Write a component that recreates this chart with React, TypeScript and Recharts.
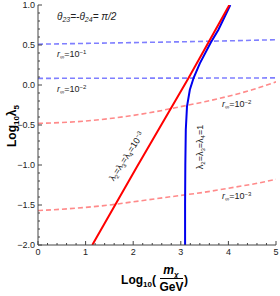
import React from 'react'
import { LineChart, Line, XAxis, YAxis } from 'recharts'

// x = log10(m_chi / GeV), y = log10(lambda_5)
const xMajor = [0, 1, 2, 3, 4, 5]
const yMajor = [-2, -1.5, -1, -0.5, 0, 0.5, 1]
const xTicks = Array.from({ length: 26 }, (_, i) => i / 5)
const yTicks = Array.from({ length: 31 }, (_, i) => -2 + i / 10)

// dashed curves (r_inf contours)
const blueR1 = [
  { x: 0, y: 0.51 }, { x: 1, y: 0.52 }, { x: 2, y: 0.53 },
  { x: 3, y: 0.54 }, { x: 4, y: 0.552 }, { x: 5, y: 0.566 },
]
const blueR2 = [
  { x: 0, y: 0.083 }, { x: 1, y: 0.084 }, { x: 2, y: 0.085 },
  { x: 3, y: 0.086 }, { x: 4, y: 0.087 }, { x: 5, y: 0.089 },
]
const redR2 = [
  { x: 0, y: -0.48 }, { x: 1, y: -0.45 }, { x: 1.5, y: -0.42 }, { x: 2, y: -0.38 },
  { x: 2.5, y: -0.33 }, { x: 3, y: -0.27 }, { x: 3.5, y: -0.21 }, { x: 4, y: -0.14 },
  { x: 4.5, y: -0.06 }, { x: 5, y: 0.04 },
]
const redR3 = [
  { x: 0, y: -1.57 }, { x: 1, y: -1.53 }, { x: 1.5, y: -1.5 }, { x: 2, y: -1.46 },
  { x: 2.5, y: -1.42 }, { x: 3, y: -1.38 }, { x: 3.5, y: -1.34 }, { x: 4, y: -1.29 },
  { x: 4.5, y: -1.24 }, { x: 5, y: -1.18 },
]

// solid curves
const redSmall = [
  { x: 1.14, y: -2 }, { x: 2.07, y: -1.03 }, { x: 3.16, y: 0.085 },
  { x: 3.58, y: 0.53 }, { x: 4.02, y: 1 },
]
const blueOne = [
  { x: 3.09, y: -2 }, { x: 3.09, y: -1.5 }, { x: 3.095, y: -1.0 }, { x: 3.105, y: -0.56 },
  { x: 3.13, y: -0.27 }, { x: 3.19, y: -0.06 }, { x: 3.27, y: 0.09 }, { x: 3.4, y: 0.27 },
  { x: 3.63, y: 0.53 }, { x: 3.79, y: 0.69 }, { x: 4.04, y: 1 },
]

const FONT = '"Liberation Sans", Arial, sans-serif'
const AXIS = '#444'
const TXT = '#222'

const isMajor = (v: number, list: number[]) => list.some((m) => Math.abs(m - v) < 1e-6)
const fmtY = (v: number) => (v < 0 ? '\u2212' + Math.abs(v).toFixed(1) : v.toFixed(1))

const BottomTick = (p: any) => {
  const major = isMajor(p.payload.value, xMajor)
  return (
    <g>
      <line x1={p.x} y1={p.y} x2={p.x} y2={p.y - (major ? 4 : 2)} stroke={AXIS} />
      {major && (
        <text x={p.x} y={p.y + 10} textAnchor="middle" fontSize={9} fill={TXT} fontFamily={FONT}>
          {Math.round(p.payload.value)}
        </text>
      )}
    </g>
  )
}
const TopTick = (p: any) => {
  const major = isMajor(p.payload.value, xMajor)
  return <line x1={p.x} y1={p.y} x2={p.x} y2={p.y + (major ? 4 : 2)} stroke={AXIS} />
}
const LeftTick = (p: any) => {
  const major = isMajor(p.payload.value, yMajor)
  return (
    <g>
      <line x1={p.x} y1={p.y} x2={p.x + (major ? 4 : 2)} y2={p.y} stroke={AXIS} />
      {major && (
        <text x={p.x - 3} y={p.y + 3} textAnchor="end" fontSize={9} fill={TXT} fontFamily={FONT}>
          {fmtY(p.payload.value)}
        </text>
      )}
    </g>
  )
}
const RightTick = (p: any) => {
  const major = isMajor(p.payload.value, yMajor)
  return <line x1={p.x} y1={p.y} x2={p.x - (major ? 4 : 2)} y2={p.y} stroke={AXIS} />
}

// "r∞=10^e" label
const RLabel = ({ x, y, e }: { x: number; y: number; e: string }) => (
  <text x={x} y={y} fontSize={9} fill={TXT} fontFamily={FONT}>
    <tspan fontStyle="italic">r</tspan>
    <tspan dy={2} fontSize={6}>∞</tspan>
    <tspan dy={-2}>=10</tspan>
    <tspan dy={-3} fontSize={6}>{'\u2212' + e}</tspan>
  </text>
)

// "λ2=λ3=λ4=..." label
const LamLabel = ({ tail }: { tail: React.ReactNode }) => (
  <>
    <tspan>λ</tspan><tspan dy={2} fontSize={6}>2</tspan>
    <tspan dy={-2}>=λ</tspan><tspan dy={2} fontSize={6}>3</tspan>
    <tspan dy={-2}>=λ</tspan><tspan dy={2} fontSize={6}>4</tspan>
    {tail}
  </>
)

export default function App() {
  return (
    <div style={{ position: 'absolute', left: 0, top: 0, width: 280, height: 296, background: '#fff' }}>
      <LineChart width={280} height={296} margin={{ top: 5, right: 4, bottom: 0, left: 0 }}>
        <XAxis xAxisId="x" type="number" dataKey="x" domain={[0, 5]} ticks={xTicks} interval={0}
          tickSize={0} tickMargin={0} tick={BottomTick} height={51} stroke={AXIS} allowDataOverflow />
        <XAxis xAxisId="xt" orientation="top" type="number" dataKey="x" domain={[0, 5]} ticks={xTicks}
          interval={0} tickSize={0} tickMargin={0} tick={TopTick} height={0} stroke={AXIS} allowDataOverflow />
        <YAxis yAxisId="y" type="number" dataKey="y" domain={[-2, 1]} ticks={yTicks} interval={0}
          tickSize={0} tickMargin={0} tick={LeftTick} width={38} stroke={AXIS} allowDataOverflow />
        <YAxis yAxisId="yr" orientation="right" type="number" dataKey="y" domain={[-2, 1]} ticks={yTicks}
          interval={0} tickSize={0} tickMargin={0} tick={RightTick} width={0} stroke={AXIS} allowDataOverflow />

        <Line xAxisId="x" yAxisId="y" data={blueR1} dataKey="y" stroke="#7f7fff" strokeWidth={1.6}
          strokeDasharray="5 3" dot={false} isAnimationActive={false} />
        <Line xAxisId="x" yAxisId="y" data={blueR2} dataKey="y" stroke="#7f7fff" strokeWidth={1.6}
          strokeDasharray="5 3" dot={false} isAnimationActive={false} />
        <Line xAxisId="x" yAxisId="y" data={redR2} dataKey="y" type="monotone" stroke="#ff8a8a"
          strokeWidth={1.6} strokeDasharray="5 3" dot={false} isAnimationActive={false} />
        <Line xAxisId="x" yAxisId="y" data={redR3} dataKey="y" type="monotone" stroke="#ff8a8a"
          strokeWidth={1.6} strokeDasharray="5 3" dot={false} isAnimationActive={false} />
        <Line xAxisId="x" yAxisId="y" data={blueOne} dataKey="y" type="linear" stroke="#0000ee"
          strokeWidth={2} dot={false} isAnimationActive={false} />
        <Line xAxisId="x" yAxisId="y" data={redSmall} dataKey="y" type="linear" stroke="#ff0000"
          strokeWidth={2} dot={false} isAnimationActive={false} />
      </LineChart>

      <svg width={280} height={296} style={{ position: 'absolute', left: 0, top: 0, pointerEvents: 'none' }}>
        <text x={57} y={20} fontSize={10} fill={TXT} fontFamily={FONT} fontStyle="italic">
          <tspan>θ</tspan><tspan dy={2} fontSize={7}>23</tspan>
          <tspan dy={-2}>=-θ</tspan><tspan dy={2} fontSize={7}>24</tspan>
          <tspan dy={-2}>= π/2</tspan>
        </text>
        <RLabel x={57} y={57} e="1" />
        <RLabel x={57} y={92} e="2" />
        <RLabel x={222} y={107} e="2" />
        <RLabel x={222} y={199} e="3" />

        <text transform="translate(129,158) rotate(-57)" textAnchor="middle" fontSize={9} fill={TXT} fontFamily={FONT}>
          <LamLabel tail={<><tspan dy={-2}>=10</tspan><tspan dy={-3} fontSize={6}>{'\u22123'}</tspan></>} />
        </text>
        <text transform="translate(203,147) rotate(-90)" textAnchor="middle" fontSize={9} fill={TXT} fontFamily={FONT}>
          <LamLabel tail={<tspan dy={-2}>=1</tspan>} />
        </text>

        <text transform="translate(16,126) rotate(-90)" textAnchor="middle" fontSize={12} fontWeight="bold" fill="#000" fontFamily={FONT}>
          <tspan>Log</tspan><tspan dy={3} fontSize={8}>10</tspan>
          <tspan dy={-3}>λ</tspan><tspan dy={3} fontSize={8}>5</tspan>
        </text>

        <text x={156} y={284} textAnchor="end" fontSize={12} fontWeight="bold" fill="#000" fontFamily={FONT}>
          <tspan>Log</tspan><tspan dy={3} fontSize={8}>10</tspan>
          <tspan dy={-3}>(</tspan>
        </text>
        <text x={171} y={274} textAnchor="middle" fontSize={12} fontWeight="bold" fill="#000" fontFamily={FONT}>
          <tspan fontStyle="italic">m</tspan><tspan dy={3} fontSize={8} fontStyle="italic">χ</tspan>
        </text>
        <line x1={160} x2={183} y1={278.5} y2={278.5} stroke="#000" strokeWidth={1} />
        <text x={171.5} y={291} textAnchor="middle" fontSize={12} fontWeight="bold" fill="#000" fontFamily={FONT}>
          GeV
        </text>
        <text x={184} y={284} fontSize={12} fontWeight="bold" fill="#000" fontFamily={FONT}>)</text>
      </svg>
    </div>
  )
}
